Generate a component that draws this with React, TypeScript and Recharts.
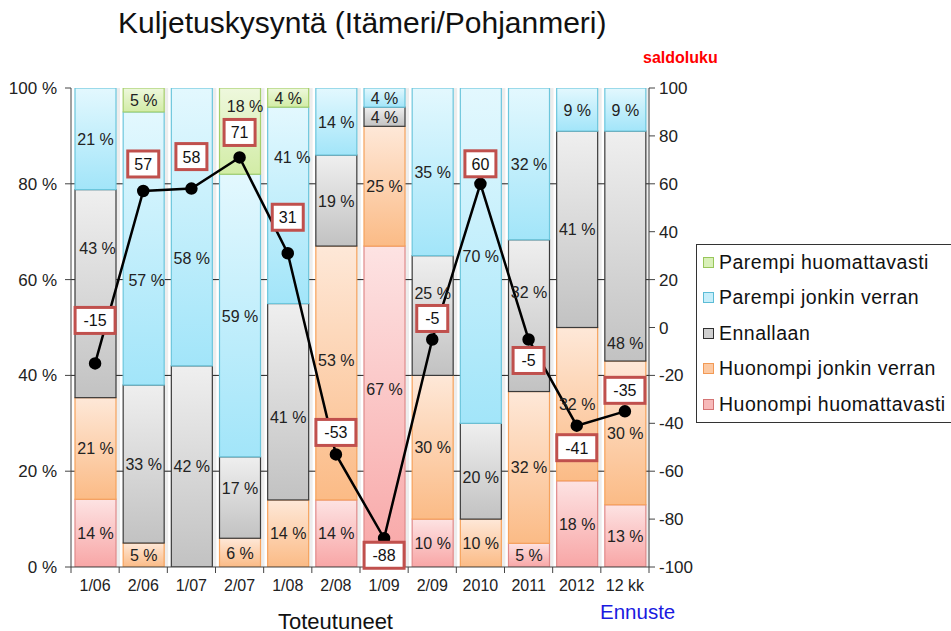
import React from 'react';
import { ComposedChart, Bar, Line, XAxis, YAxis, CartesianGrid, LabelList } from 'recharts';

const categories = ['1/06', '2/06', '1/07', '2/07', '1/08', '2/08', '1/09', '2/09', '2010', '2011', '2012', '12 kk'];
const huonompiHuomattavasti = [14, 0, 0, 0, 0, 14, 67, 10, 0, 5, 18, 13];
const huonompiJonkin = [21, 5, 0, 6, 14, 53, 25, 30, 10, 32, 32, 30];
const ennallaan = [43, 33, 42, 17, 41, 19, 4, 25, 20, 32, 41, 48];
const parempiJonkin = [21, 57, 58, 59, 41, 14, 4, 35, 70, 32, 9, 9];
const parempiHuomattavasti = [0, 5, 0, 18, 4, 0, 0, 0, 0, 0, 0, 0];
const saldoluku = [-15, 57, 58, 71, 31, -53, -88, -5, 60, -5, -41, -35];
const leftTicks = [0, 20, 40, 60, 80, 100];
const rightTicks = [-100, -80, -60, -40, -20, 0, 20, 40, 60, 80, 100];

const W = 951;
const H = 631;
const M_TOP = 88;
const PLOT_H = 479;
const LEFT_W = 71;
const RIGHT_W = 50;
const M_RIGHT = 252;
const PLOT_W = W - LEFT_W - RIGHT_W - M_RIGHT;
const BAND = PLOT_W / categories.length;
const PLOT_BOTTOM = M_TOP + PLOT_H;
const FONT = '"Liberation Sans", Arial, sans-serif';

const series = [
  { key: 'hh', raw: huonompiHuomattavasti, name: 'Huonompi huomattavasti', top: '#fde3e3', bottom: '#f8a6a6', stroke: '#e08a8a', mark: '#f7b9b9', markStroke: '#d47474' },
  { key: 'hj', raw: huonompiJonkin, name: 'Huonompi jonkin verran', top: '#fee8d8', bottom: '#fbbb86', stroke: '#f6a25c', mark: '#fcc9a2', markStroke: '#f29a55' },
  { key: 'e', raw: ennallaan, name: 'Ennallaan', top: '#efefef', bottom: '#c2c2c2', stroke: '#3a3a3a', mark: '#cfcfcf', markStroke: '#303030' },
  { key: 'pj', raw: parempiJonkin, name: 'Parempi jonkin verran', top: '#e3f8fe', bottom: '#a2e5f9', stroke: '#6cc6dc', mark: '#c6eefa', markStroke: '#5cbcd6' },
  { key: 'ph', raw: parempiHuomattavasti, name: 'Parempi huomattavasti', top: '#eef8dd', bottom: '#d2eca6', stroke: '#a6cf6c', mark: '#d9f0b8', markStroke: '#98c65a' },
];

const data = categories.map((c, i) => {
  const total = series.reduce((s, se) => s + se.raw[i], 0);
  const row: any = { cat: c, saldo: saldoluku[i] };
  series.forEach((se) => {
    row[se.key] = (se.raw[i] * 100) / total;
    row[se.key + '_raw'] = se.raw[i];
  });
  return row;
});

// label placement tweaks (style only)
const labelShift = [-43, -27, -32, -25, -36, -22, 17, -21, -20, 21, 22, -21];
const segShift: Record<string, [number, number]> = {
  'e-0': [2, -46],
  'pj-1': [3, 32],
  'pj-2': [0, 31],
  'ph-3': [5, -25],
  'e-3': [0, -10],
  'pj-4': [4, -48],
  'e-4': [0, 15],
  'hj-5': [0, -13],
  'hh-6': [0, -18],
  'e-7': [0, -23],
  'e-8': [0, 6],
  'e-9': [0, -24],
  'e-11': [0, 97],
};

const XTick = (props: any) => {
  const { x, payload, index } = props;
  const half = BAND / 2;
  return (
    <g>
      <line x1={x - half} x2={x - half} y1={PLOT_BOTTOM} y2={PLOT_BOTTOM + 6} stroke="#444" />
      {index === categories.length - 1 && (
        <line x1={x + half} x2={x + half} y1={PLOT_BOTTOM} y2={PLOT_BOTTOM + 6} stroke="#444" />
      )}
      <text x={x} y={PLOT_BOTTOM + 24} textAnchor="middle" fontSize={16} fill="#222" fontFamily={FONT}>
        {payload.value}
      </text>
    </g>
  );
};

const SegLabel = (props: any) => {
  const { x, y, width, height, value, index, sk } = props;
  if (!value) return null;
  const sh = segShift[`${sk}-${index}`] || [0, 0];
  return (
    <text
      x={x + width / 2 + sh[0]}
      y={y + height / 2 + sh[1]}
      dy={6}
      textAnchor="middle"
      fontSize={16}
      fill="#222"
      fontFamily={FONT}
    >
      {`${value} %`}
    </text>
  );
};

const SaldoLabel = (props: any) => {
  const { x, y, value, index } = props;
  const txt = String(value);
  const w = txt.length * 9 + 13;
  const h = 26;
  const cy = y + labelShift[index];
  return (
    <g>
      <rect x={x - w / 2} y={cy - h / 2} width={w} height={h} fill="#fff" stroke="#c0504d" strokeWidth={3} />
      <text x={x} y={cy} dy={6} textAnchor="middle" fontSize={16} fill="#111" fontFamily={FONT}>
        {txt}
      </text>
    </g>
  );
};

const ShadowBar = (props: any) => {
  const { x, y, width, height, fill, stroke } = props;
  if (!height || height <= 0) return null;
  return (
    <g>
      <rect x={x + 4} y={y} width={width} height={height} fill="#000" opacity={0.07} />
      <rect x={x} y={y} width={width} height={height} fill={fill} stroke={stroke} strokeWidth={1.2} />
    </g>
  );
};

export default function App() {
  return (
    <div style={{ position: 'absolute', left: 0, top: 0, width: W, height: H, overflow: 'hidden', background: '#fff', fontFamily: FONT }}>
      <ComposedChart
        width={W}
        height={H}
        data={data}
        margin={{ top: M_TOP, right: M_RIGHT, bottom: H - PLOT_BOTTOM - 30, left: 0 }}
        barSize={41}
      >
        <defs>
          {series.map((se) => (
            <linearGradient key={se.key} id={`g-${se.key}`} x1="0" y1="0" x2="0" y2="1">
              <stop offset="0%" stopColor={se.top} />
              <stop offset="100%" stopColor={se.bottom} />
            </linearGradient>
          ))}
        </defs>
        <CartesianGrid yAxisId="left" vertical={false} horizontalValues={[20, 40, 60, 80]} stroke="#222" strokeWidth={1} />
        <XAxis dataKey="cat" height={30} tick={<XTick />} tickLine={false} axisLine={{ stroke: '#444' }} interval={0} />
        <YAxis
          yAxisId="left"
          width={LEFT_W}
          domain={[0, 100]}
          ticks={leftTicks}
          tickFormatter={(v: number) => `${v} %`}
          tick={{ fontSize: 17, fill: '#222', fontFamily: FONT }}
          tickLine={{ stroke: '#444' }}
          axisLine={{ stroke: '#444' }}
          tickSize={6}
          tickMargin={8}
          allowDataOverflow
        />
        <YAxis
          yAxisId="right"
          orientation="right"
          width={RIGHT_W}
          domain={[-100, 100]}
          ticks={rightTicks}
          tick={{ fontSize: 17, fill: '#222', fontFamily: FONT }}
          tickLine={{ stroke: '#444' }}
          axisLine={{ stroke: '#444' }}
          tickSize={6}
          tickMargin={4}
        />
        {series.map((se) => (
          <Bar
            key={se.key}
            dataKey={se.key}
            name={se.name}
            stackId="a"
            yAxisId="left"
            fill={`url(#g-${se.key})`}
            stroke={se.stroke}
            shape={<ShadowBar />}
            isAnimationActive={false}
          >
            <LabelList dataKey={se.key + '_raw'} content={(p: any) => <SegLabel {...p} sk={se.key} />} />
          </Bar>
        ))}
        <Line
          dataKey="saldo"
          yAxisId="right"
          stroke="#000"
          strokeWidth={2.5}
          dot={{ r: 5, fill: '#000', stroke: '#000' }}
          activeDot={false}
          isAnimationActive={false}
        >
          <LabelList dataKey="saldo" content={<SaldoLabel />} />
        </Line>
      </ComposedChart>

      <div style={{ position: 'absolute', left: 118, top: 5, fontSize: 30, color: '#111', whiteSpace: 'nowrap', lineHeight: '36px' }}>
        Kuljetuskysyntä (Itämeri/Pohjanmeri)
      </div>
      <div style={{ position: 'absolute', left: 643, top: 48, fontSize: 16, fontWeight: 'bold', color: '#f00', whiteSpace: 'nowrap', lineHeight: '20px' }}>
        saldoluku
      </div>
      <div style={{ position: 'absolute', left: 278, top: 609, fontSize: 22, color: '#111', whiteSpace: 'nowrap', lineHeight: '26px' }}>
        Toteutuneet
      </div>
      <div style={{ position: 'absolute', left: 600, top: 600, fontSize: 20.5, color: '#1a1ae0', whiteSpace: 'nowrap', lineHeight: '24px' }}>
        Ennuste
      </div>

      <div
        style={{
          position: 'absolute',
          left: 696,
          top: 244,
          width: 270,
          height: 179,
          border: '1px solid #333',
          background: '#fff',
          boxSizing: 'border-box',
        }}
      >
        {[...series].reverse().map((se, i) => (
          <div
            key={se.key}
            style={{ position: 'absolute', left: 6, top: 4 + i * 35.5, height: 26, display: 'flex', alignItems: 'center', whiteSpace: 'nowrap' }}
          >
            <div style={{ width: 9, height: 9, background: se.mark, border: `1px solid ${se.markStroke}`, marginRight: 5 }} />
            <span style={{ fontSize: 19.5, color: '#111', letterSpacing: 0.5 }}>{se.name}</span>
          </div>
        ))}
      </div>
    </div>
  );
}
